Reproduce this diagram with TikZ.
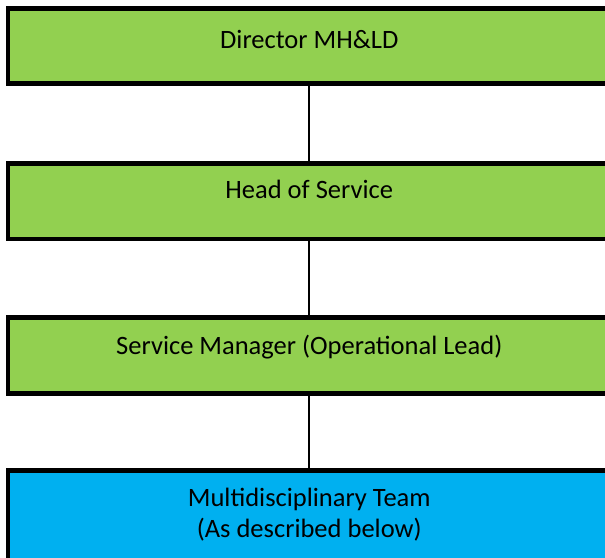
\documentclass[tikz,border=0pt]{standalone}
\usepackage{fontspec}
\setmainfont{Carlito}
\definecolor{boxgreen}{HTML}{92D050}
\definecolor{boxblue}{HTML}{00B0F0}

\begin{document}
\begin{tikzpicture}[x=1pt,y=-1pt,
  role/.style={draw=black,line width=4.5pt,fill=boxgreen,minimum width=603pt,
    inner sep=0pt,anchor=north west,align=center,
    font=\fontsize{26.5}{31}\selectfont},
  link/.style={line width=1.8pt}]
\useasboundingbox (0,0) rectangle (605,557);
\node[role,minimum height=75pt,text depth=12pt] (director) at (5.5,6) {Director MH\&LD};
\node[role,minimum height=75.5pt,text depth=24pt] (head) at (5.5,161) {Head of Service};
\node[role,minimum height=76pt,text depth=20pt] (manager) at (5.5,315) {Service Manager (Operational Lead)};
\node[role,fill=boxblue,minimum height=94pt,text depth=9pt] (team) at (5.5,468) {Multidisciplinary Team\\(As described below)};
\draw[link] (director.south) -- (head.north);
\draw[link] (head.south) -- (manager.north);
\draw[link] (manager.south) -- (team.north);
\end{tikzpicture}
\end{document}
